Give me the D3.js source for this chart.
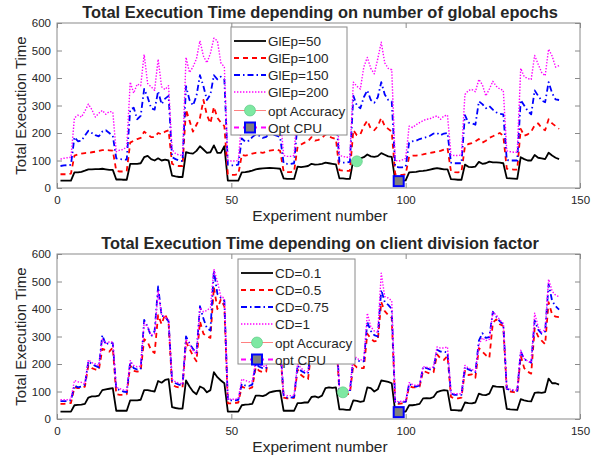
<!DOCTYPE html>
<html lang="en">
<head>
<meta charset="UTF-8">
<title>Total Execution Time</title>
<script src="https://cdn.jsdelivr.net/npm/d3@7/dist/d3.min.js"></script>
<style>
    body { margin: 0; background: #fff; }
    text { font-family: "Liberation Sans", Arial, Helvetica, sans-serif; fill: #262626; }
</style>
</head>
<body>
<svg id="chart" width="602" height="460"></svg>
<script>
// ---- data ----
const experiments = d3.range(1, 145);
const xTicks = [0, 50, 100, 150];
const yTicks = [0, 100, 200, 300, 400, 500, 600];

const glep50 = [
 27,27,27,27,57,57,59,63,68,68,69,69,70,68,66,66,
 31,31,30,30,88,88,88,90,112,117,105,100,108,100,103,100,
 45,42,40,40,130,127,125,135,152,140,128,130,155,128,128,152,
 27,27,27,27,57,58,60,63,68,70,71,72,73,72,71,70,
 35,33,33,33,78,76,78,80,88,85,86,88,92,90,88,86,
 35,35,33,33,103,97,108,112,122,115,113,116,127,121,115,113,
 27,25,27,28,57,58,59,61,62,64,67,70,72,70,68,68,
 32,31,30,30,85,77,76,78,95,88,90,96,93,93,92,90,
 36,35,34,33,112,105,100,100,120,110,108,105,128,118,110,105];
const glep100 = [
 50,50,50,52,118,122,125,127,128,130,132,135,138,138,137,136,
 62,60,60,62,165,172,178,182,205,195,185,185,200,195,205,210,
 88,82,80,80,285,245,205,230,255,320,265,235,295,255,238,225,
 50,48,48,50,120,118,120,125,128,130,128,132,136,138,140,135,
 60,58,58,60,150,158,165,170,185,172,175,182,195,188,182,178,
 65,63,62,62,210,192,195,225,245,215,210,225,255,225,215,205,
 50,48,48,50,115,118,118,120,122,125,128,130,133,135,140,145,
 60,58,57,58,152,160,163,170,178,165,172,182,188,195,200,190,
 70,68,67,67,215,190,195,205,228,235,218,210,250,235,225,215];
const glep150 = [
 80,82,83,84,185,170,172,190,208,200,192,188,205,210,200,190,
 108,105,104,103,285,292,250,262,360,330,290,285,352,305,325,335,
 112,105,100,98,370,320,300,335,410,370,320,340,410,395,405,395,
 85,82,82,85,180,168,172,185,195,190,182,186,200,195,190,185,
 90,88,88,90,235,230,240,250,290,270,260,270,300,285,275,270,
 95,92,92,95,335,300,290,330,355,320,310,330,385,340,320,315,
 78,75,75,78,165,170,172,178,182,185,190,198,200,192,198,200,
 92,90,90,90,265,238,235,230,315,305,290,298,285,275,270,268,
 102,100,100,100,320,300,280,268,355,335,318,312,385,345,322,320];
const glep200 = [
 105,108,110,112,255,265,258,280,305,285,258,272,282,268,278,276,
 132,138,140,150,385,345,378,372,485,380,368,355,468,368,358,372,
 140,125,120,118,475,420,440,470,535,480,455,490,545,535,455,440,
 100,98,98,100,250,240,245,260,275,270,260,265,280,275,270,265,
 118,115,115,118,310,305,320,330,380,360,345,355,395,375,365,355,
 118,115,112,112,385,370,360,440,475,435,415,470,530,455,435,430,
 100,98,102,108,225,220,230,238,245,250,252,258,262,250,262,265,
 120,118,118,120,340,355,358,350,395,375,335,360,388,370,360,355,
 135,132,130,130,435,405,398,395,482,450,420,408,505,480,440,445];

const cd01 = [
 27,27,27,27,50,51,52,55,78,82,82,85,105,108,110,112,
 30,30,30,30,68,68,68,70,105,105,102,100,138,132,142,145,
 43,40,38,38,140,118,100,90,118,112,97,105,170,152,140,130,
 27,27,27,27,50,52,53,55,85,85,83,88,97,100,102,103,
 30,30,30,30,58,58,60,60,80,82,78,85,112,115,113,115,
 35,35,33,33,68,66,62,65,115,112,100,108,140,138,135,130,
 27,25,27,27,50,50,52,55,75,76,75,80,98,102,105,103,
 32,32,31,31,60,58,57,60,92,88,87,92,120,118,117,117,
 37,35,34,33,72,68,65,64,95,97,95,98,147,130,130,125];
const cd05 = [
 55,55,57,58,115,112,113,118,195,185,180,178,255,250,245,260,
 90,88,88,90,195,175,172,175,290,280,250,240,378,345,382,350,
 125,118,115,115,280,255,230,210,355,310,300,295,480,400,435,410,
 57,57,58,60,118,112,110,115,188,175,170,172,265,250,240,255,
 78,75,75,77,180,160,150,145,250,235,225,230,340,315,305,310,
 95,92,90,92,200,188,185,185,310,292,282,285,425,392,378,368,
 55,55,57,58,120,115,115,118,175,170,165,170,235,220,215,230,
 80,75,75,78,175,160,162,150,258,245,232,222,350,362,345,338,
 105,100,98,95,230,185,172,165,330,300,285,272,425,380,372,370];
const cd075 = [
 65,65,65,68,122,115,118,125,210,200,193,188,305,270,278,276,
 110,105,100,98,208,185,180,182,360,335,300,320,482,375,372,355,
 140,130,125,122,300,275,255,240,410,365,330,322,540,455,440,430,
 68,68,68,70,128,122,120,125,200,190,185,185,310,280,270,275,
 82,78,78,80,195,175,168,165,280,260,250,255,380,350,340,345,
 105,100,98,100,225,212,210,210,352,320,305,300,470,425,415,400,
 60,60,62,62,128,120,118,122,190,185,180,185,252,245,245,242,
 92,88,88,88,190,180,175,170,285,312,295,298,390,372,355,345,
 110,105,103,102,245,218,210,205,358,325,310,318,490,430,410,398];
const cd1 = [
 70,70,70,72,140,135,133,128,215,205,200,195,290,275,280,280,
 115,110,106,105,212,195,190,192,350,335,305,310,465,380,370,360,
 145,135,130,128,290,270,250,235,405,390,395,405,545,500,445,440,
 72,72,72,74,145,140,135,138,210,198,192,192,305,285,275,280,
 88,85,85,86,200,185,175,170,285,265,255,260,385,355,345,350,
 110,105,102,105,235,220,215,215,385,335,320,315,530,445,440,430,
 65,63,65,65,132,125,122,125,190,188,185,190,262,258,258,262,
 95,92,92,92,195,185,180,175,270,295,285,290,388,378,360,348,
 112,108,106,104,250,220,210,205,385,335,315,325,508,465,450,445];

// optimum points [experiment, time]
const optAccTop = [86, 97];
const optCpuTop = [98, 25];
const optAccBottom = [82, 97];
const optCpuBottom = [98, 25];

const topNames = ["GlEp=50", "GlEp=100", "GlEp=150", "GlEp=200", "opt Accuracy", "Opt CPU"];
const bottomNames = ["CD=0.1", "CD=0.5", "CD=0.75", "CD=1", "opt Accuracy", "opt CPU"];

// ---- styles ----
const styles = [
    {color: "#000000", width: 1.8, dash: null},
    {color: "#ff0000", width: 1.8, dash: "5,4"},
    {color: "#0000ff", width: 1.8, dash: "6,3,1.5,3"},
    {color: "#ff00ff", width: 1.4, dash: "1.4,1.6"}
];

const svg = d3.select("#chart");

function fitText(sel, target) {
    const len = sel.node().getComputedTextLength();
    const fs = parseFloat(sel.attr("font-size"));
    sel.attr("font-size", fs * target / len);
}

function drawPanel(cfg) {
    const x = d3.scaleLinear().domain([0, 150]).range([57, 580]);
    const y = d3.scaleLinear().domain([0, 600]).range([cfg.bottom, cfg.top]);
    const g = svg.append("g");

    // axes (MATLAB style: ticks inside, box on)
    const tickStyle = a => {
        a.select(".domain").remove();
        a.selectAll(".tick line").attr("stroke", "#8a8a8a");
        a.selectAll("text").attr("font-size", 11.5).attr("fill", "#262626")
            .style("font-family", '"Liberation Sans", Arial, sans-serif');
    };
    g.append("g").attr("transform", `translate(0,${cfg.bottom})`)
        .call(d3.axisBottom(x).tickValues(xTicks).tickSize(-5).tickPadding(8)).call(tickStyle);
    g.append("g").attr("transform", `translate(0,${cfg.top})`)
        .call(d3.axisTop(x).tickValues(xTicks).tickSize(-5).tickFormat("")).call(tickStyle);
    g.append("g").attr("transform", "translate(57,0)")
        .call(d3.axisLeft(y).tickValues(yTicks).tickSize(-5).tickPadding(6)).call(tickStyle);
    g.append("g").attr("transform", "translate(580,0)")
        .call(d3.axisRight(y).tickValues(yTicks).tickSize(-5).tickFormat("")).call(tickStyle);

    g.append("rect")
        .attr("x", 57).attr("y", cfg.top)
        .attr("width", 523).attr("height", cfg.bottom - cfg.top)
        .attr("fill", "none").attr("stroke", "#8a8a8a").attr("stroke-width", 1);

    // lines
    const line = d3.line().x((d, i) => x(experiments[i])).y(d => y(d));
    cfg.series.forEach((s, k) => {
        g.append("path").datum(s)
            .attr("d", line)
            .attr("fill", "none")
            .attr("stroke", styles[k].color)
            .attr("stroke-width", styles[k].width)
            .attr("stroke-dasharray", styles[k].dash)
            .attr("stroke-linejoin", "round");
    });

    // optimum markers
    g.append("circle")
        .attr("cx", x(cfg.acc[0])).attr("cy", y(cfg.acc[1])).attr("r", 5.5)
        .attr("fill", "#7ee8a2").attr("stroke", "#55c47f").attr("stroke-width", 0.6);
    g.append("rect")
        .attr("x", x(cfg.cpu[0]) - 5).attr("y", y(cfg.cpu[1]) - 5)
        .attr("width", 10).attr("height", 10)
        .attr("fill", "#7f7f7f").attr("stroke", "#0000ff").attr("stroke-width", 2);

    // legend
    const lg = g.append("g");
    lg.append("rect")
        .attr("x", cfg.legend.x).attr("y", cfg.legend.y)
        .attr("width", cfg.legend.w).attr("height", cfg.legend.h)
        .attr("fill", "#fff").attr("stroke", "#8a8a8a").attr("stroke-width", 1);
    cfg.names.forEach((name, k) => {
        const ly = cfg.legend.y + 14 + k * 17 + (k > 3 ? 1.5 : 0);
        const x0 = cfg.legend.x + 3, x1 = cfg.legend.x + 35;
        if (k < 4) {
            lg.append("line").attr("x1", x0).attr("x2", x1).attr("y1", ly).attr("y2", ly)
                .attr("stroke", styles[k].color).attr("stroke-width", styles[k].width)
                .attr("stroke-dasharray", styles[k].dash);
        } else if (k === 4) {
            lg.append("line").attr("x1", x0).attr("x2", x1).attr("y1", ly).attr("y2", ly)
                .attr("stroke", "#ff8080").attr("stroke-width", 1);
            lg.append("circle").attr("cx", (x0 + x1) / 2).attr("cy", ly).attr("r", 5.5)
                .attr("fill", "#7ee8a2").attr("stroke", "#55c47f").attr("stroke-width", 0.6);
        } else {
            lg.append("line").attr("x1", x0).attr("x2", x1).attr("y1", ly).attr("y2", ly)
                .attr("stroke", "#ff00ff").attr("stroke-width", 2).attr("stroke-dasharray", "5,4");
            lg.append("rect").attr("x", (x0 + x1) / 2 - 5).attr("y", ly - 5)
                .attr("width", 10).attr("height", 10)
                .attr("fill", "#7f7f7f").attr("stroke", "#0000ff").attr("stroke-width", 2);
        }
        lg.append("text").attr("x", x1 + 2).attr("y", ly + 5)
            .attr("font-size", 13.5).attr("fill", "#000").text(name);
    });

    // titles
    const t = g.append("text").attr("x", 320).attr("y", cfg.top - 5)
        .attr("text-anchor", "middle").attr("font-weight", "bold")
        .attr("font-size", 15).attr("fill", "#000").text(cfg.title);
    fitText(t, cfg.titleWidth);

    g.append("text").attr("x", 320).attr("y", cfg.bottom + 33)
        .attr("text-anchor", "middle").attr("font-size", 15.5)
        .text("Experiment number");
    g.append("text")
        .attr("transform", `translate(26,${(cfg.top + cfg.bottom) / 2}) rotate(-90)`)
        .attr("text-anchor", "middle").attr("font-size", 15)
        .text("Total Execution Time");
}

drawPanel({
    top: 23, bottom: 188,
    series: [glep50, glep100, glep150, glep200],
    names: topNames,
    acc: optAccTop, cpu: optCpuTop,
    legend: {x: 231, y: 27, w: 116, h: 108},
    title: "Total Execution Time depending on number of global epochs",
    titleWidth: 476
});

drawPanel({
    top: 254, bottom: 419,
    series: [cd01, cd05, cd075, cd1],
    names: bottomNames,
    acc: optAccBottom, cpu: optCpuBottom,
    legend: {x: 238, y: 259, w: 117, h: 105},
    title: "Total Execution Time depending on client division factor",
    titleWidth: 438
});
</script>
</body>
</html>
